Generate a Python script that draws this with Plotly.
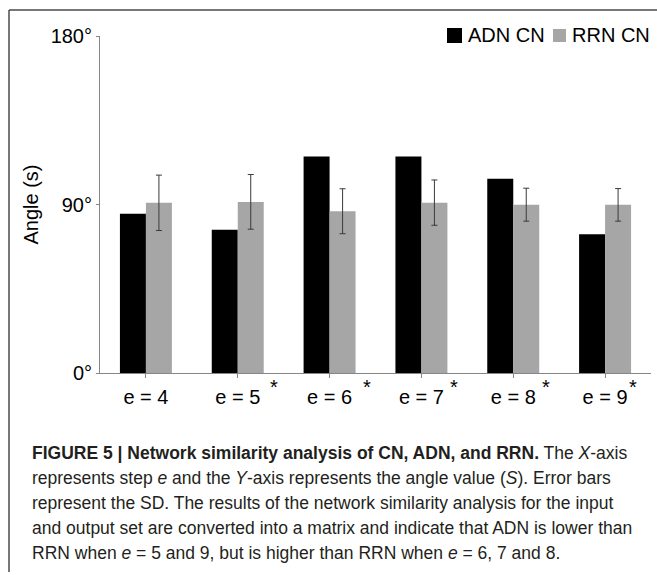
import plotly.graph_objects as go

# ---- data ----
categories = ["e = 4", "e = 5", "e = 6", "e = 7", "e = 8", "e = 9"]
adn_cn = [85.0, 76.5, 115.7, 115.7, 103.7, 74.1]
rrn_cn = [90.9, 91.4, 86.4, 91.0, 89.9, 89.8]
rrn_sd = [14.8, 14.6, 12.0, 12.1, 8.8, 8.7]
significant = [False, True, True, True, True, True]
star_shift = [0, 36, 37, 33, 33, 28]
y_tickvals = [0, 90, 180]
y_ticktext = ["0°", "90°", "180°"]
series_names = ["ADN CN", "RRN CN"]
caption_lines = [
    "<b>FIGURE 5 | Network similarity analysis of CN, ADN, and RRN.</b> The <i>X</i>-axis",
    "represents step <i>e</i> and the <i>Y</i>-axis represents the angle value (<i>S</i>). Error bars",
    "represent the SD. The results of the network similarity analysis for the input",
    "and output set are converted into a matrix and indicate that ADN is lower than",
    "RRN when <i>e</i> = 5 and 9, but is higher than RRN when <i>e</i> = 6, 7 and 8.",
]

W, H = 657, 575
L, R, T, B = 100, 6, 36, 202
PW, PH = W - L - R, H - T - B

def px(x):
    return (x - L) / PW

def py(y):
    return 1 - (y - T) / PH

FONT = "Arial, Liberation Sans, sans-serif"
BLACK = "#000000"
GRAY = "#a6a6a6"
AXIS = "#868686"

fig = go.Figure()
fig.add_trace(go.Bar(x=categories, y=adn_cn, name=series_names[0],
                     marker=dict(color=BLACK, line=dict(width=0))))
fig.add_trace(go.Bar(x=categories, y=rrn_cn, name=series_names[1],
                     marker=dict(color=GRAY, line=dict(width=0)),
                     error_y=dict(type="data", array=rrn_sd, visible=True,
                                  color="#3a3a3a", thickness=1, width=3)))

annotations = []
for c, s, sh in zip(categories, significant, star_shift):
    if s:
        annotations.append(dict(x=c, y=0, xref="x", yref="y", text="*",
                                showarrow=False, xshift=sh, yshift=-14,
                                yanchor="middle",
                                font=dict(family=FONT, size=20, color="black")))

# manual legend
legend_items = [(447, 462, 28, 43, BLACK, 466), (553, 566, 29, 42, GRAY, 570)]
shapes = []
for (x0, x1, y0, y1, col, tx), nm in zip(legend_items, series_names):
    shapes.append(dict(type="rect", xref="paper", yref="paper",
                       x0=px(x0), x1=px(x1), y0=py(y1), y1=py(y0),
                       fillcolor=col, line=dict(width=0)))
    annotations.append(dict(x=px(tx), y=py(35.5), xref="paper", yref="paper",
                            text=nm, showarrow=False, xanchor="left",
                            yanchor="middle",
                            font=dict(family=FONT, size=20, color="black")))

# frame lines
shapes.append(dict(type="line", xref="paper", yref="paper",
                   x0=px(9), x1=px(700), y0=py(10), y1=py(10),
                   line=dict(color="#4a4a4a", width=1.5)))
shapes.append(dict(type="line", xref="paper", yref="paper",
                   x0=px(9), x1=px(9), y0=py(10), y1=py(572),
                   line=dict(color="#4a4a4a", width=1.5)))

# caption, one annotation per line for exact line spacing
CAP_SIZE = 17.5
for i, line in enumerate(caption_lines):
    baseline = 458 + 25 * i
    annotations.append(dict(x=px(30), y=py(baseline - CAP_SIZE), xref="paper",
                            yref="paper", text=line, showarrow=False,
                            xanchor="left", yanchor="top", align="left",
                            font=dict(family=FONT, size=CAP_SIZE, color="#231f20")))

fig.update_layout(
    width=W, height=H,
    margin=dict(l=L, r=R, t=T, b=B, autoexpand=False),
    paper_bgcolor="white", plot_bgcolor="white",
    barmode="group", bargap=0.434, bargroupgap=0,
    showlegend=False,
    font=dict(family=FONT, size=20, color="black"),
    xaxis=dict(showline=True, linecolor=AXIS, linewidth=1, ticks="outside",
               ticklen=4, tickcolor=AXIS, showgrid=False, zeroline=False,
               tickfont=dict(size=20), ticklabelstandoff=2, fixedrange=True),
    yaxis=dict(range=[0, 180], tickvals=y_tickvals, ticktext=y_ticktext,
               showline=True, linecolor=AXIS, linewidth=1, ticks="outside",
               ticklen=3, tickcolor=AXIS, showgrid=False, zeroline=False,
               tickfont=dict(size=20),
               title=dict(text="Angle (s)", font=dict(size=20), standoff=6),
               fixedrange=True),
    shapes=shapes, annotations=annotations,
)

fig.write_html("out.html")
